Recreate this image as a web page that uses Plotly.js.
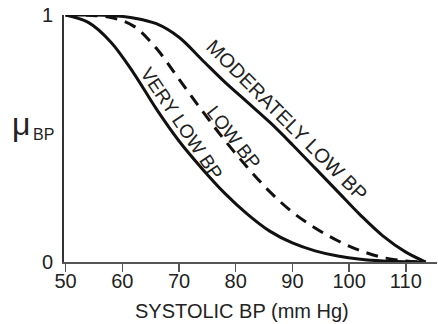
<!DOCTYPE html>
<html>
<head>
<meta charset="utf-8">
<script src="https://cdn.plot.ly/plotly-3.0.1.min.js"></script>
<style>
html,body{margin:0;padding:0;background:#fff;}
#chart{width:438px;height:324px;}
</style>
</head>
<body>
<div id="chart"></div>
<script>
// Very low BP (solid)
const veryLowX = [50, 54, 58, 62, 66, 70, 74, 78, 82, 86, 90, 94, 98, 102, 106, 110, 113.5];
const veryLowY = [1, 0.97, 0.89, 0.765, 0.62, 0.49, 0.38, 0.28, 0.195, 0.125, 0.077, 0.045, 0.024, 0.011, 0.004, 0.001, 0];
// Low BP (dashed)
const lowX = [50, 54, 58, 62, 66, 70, 74, 78, 82, 86, 90, 94, 98, 102, 106, 110, 113.5];
const lowY = [1, 0.999, 0.99, 0.955, 0.865, 0.74, 0.615, 0.495, 0.385, 0.285, 0.202, 0.138, 0.086, 0.046, 0.018, 0.004, 0];
// Moderately low BP (solid)
const modX = [50, 54, 58, 62, 66, 70, 74, 78, 82, 86, 90, 94, 98, 102, 106, 110, 113.5];
const modY = [1, 1, 0.998, 0.988, 0.965, 0.91, 0.82, 0.73, 0.648, 0.566, 0.475, 0.38, 0.285, 0.19, 0.105, 0.04, 0];

const xTicks = [50, 60, 70, 80, 90, 100, 110];
const yTicks = [0, 1];
const curveLabels = ["MODERATELY LOW BP", "LOW BP", "VERY LOW BP"];
const xTitle = "SYSTOLIC BP (mm Hg)";

const lineStyle = {color: '#111', width: 3, shape: 'spline', smoothing: 1};
const traces = [
  {x: veryLowX, y: veryLowY, mode: 'lines', line: lineStyle, hoverinfo: 'skip'},
  {x: lowX, y: lowY, mode: 'lines', line: Object.assign({}, lineStyle, {dash: '12px,8px'}), hoverinfo: 'skip'},
  {x: modX, y: modY, mode: 'lines', line: lineStyle, hoverinfo: 'skip'}
];

const font = {family: 'Liberation Sans, Arial, sans-serif', color: '#222'};
const layout = {
  width: 438, height: 324,
  margin: {l: 64, r: 1, t: 15, b: 62},
  paper_bgcolor: '#fff', plot_bgcolor: '#fff',
  showlegend: false,
  xaxis: {
    range: [49.72, 115.5], tickvals: xTicks, ticktext: xTicks.map(String),
    showgrid: false, zeroline: false, showline: true, linecolor: '#555', linewidth: 2,
    ticks: 'outside', ticklen: 8, tickwidth: 1.5, tickcolor: '#555',
    tickfont: Object.assign({}, font, {size: 20}), ticklabelstandoff: -8
  },
  yaxis: {
    range: [0, 1], tickvals: yTicks, ticktext: yTicks.map(String),
    showgrid: false, zeroline: false, showline: true, linecolor: '#333', linewidth: 2,
    ticks: '', tickfont: Object.assign({}, font, {size: 20}), ticklabelstandoff: 5
  },
  annotations: [
    {xref: 'x', yref: 'y', x: 89.0, y: 0.575, text: curveLabels[0], textangle: 45, showarrow: false,
     font: Object.assign({}, font, {size: 20})},
    {xref: 'x', yref: 'y', x: 79.7, y: 0.506, text: curveLabels[1], textangle: 52, showarrow: false,
     font: Object.assign({}, font, {size: 19})},
    {xref: 'x', yref: 'y', x: 70.4, y: 0.559, text: curveLabels[2], textangle: 56, showarrow: false,
     font: Object.assign({}, font, {size: 19})},
    {xref: 'paper', yref: 'paper', x: (242 - 64) / 373, y: (262 - 311) / 247, text: xTitle, showarrow: false,
     xanchor: 'center', yanchor: 'middle', font: Object.assign({}, font, {size: 20})},
    {xref: 'paper', yref: 'paper', x: (21 - 64) / 373, y: (262 - 124) / 247, text: 'μ', showarrow: false,
     xanchor: 'center', yanchor: 'middle', font: Object.assign({}, font, {size: 32})},
    {xref: 'paper', yref: 'paper', x: (43 - 64) / 373, y: (262 - 134) / 247, text: 'BP', showarrow: false,
     xanchor: 'center', yanchor: 'middle', font: Object.assign({}, font, {size: 16})}
  ]
};

Plotly.newPlot('chart', traces, layout, {staticPlot: true, displayModeBar: false});
</script>
</body>
</html>
